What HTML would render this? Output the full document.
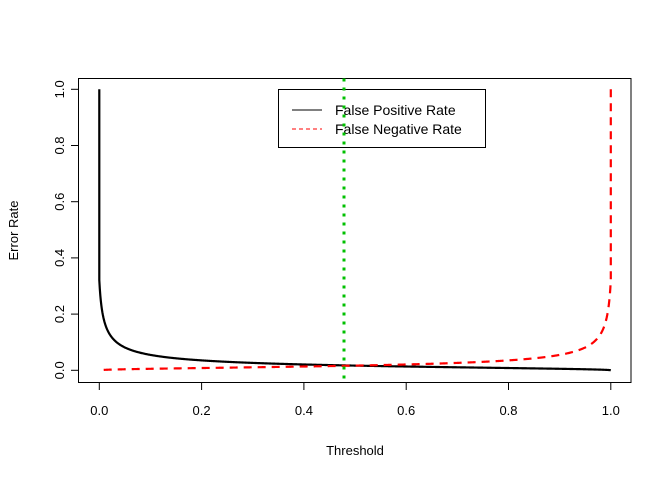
<!DOCTYPE html>
<html><head><style>
body{margin:0;background:#fff;}
svg{display:block;font-family:"Liberation Sans",Arial,sans-serif;}
</style></head><body>
<svg id="s" width="672" height="480" xmlns="http://www.w3.org/2000/svg">
<rect x="0" y="0" width="672" height="480" fill="#fff"/>
<rect x="78.5" y="78.5" width="552.5" height="304" fill="none" stroke="#000" stroke-width="1"/>
<g stroke="#000" stroke-width="1">
<line x1="99.3" y1="382.5" x2="99.3" y2="390"/>
<line x1="201.6" y1="382.5" x2="201.6" y2="390"/>
<line x1="303.9" y1="382.5" x2="303.9" y2="390"/>
<line x1="406.2" y1="382.5" x2="406.2" y2="390"/>
<line x1="508.5" y1="382.5" x2="508.5" y2="390"/>
<line x1="610.8" y1="382.5" x2="610.8" y2="390"/>
<line x1="71" y1="370.3" x2="78.5" y2="370.3"/>
<line x1="71" y1="314.1" x2="78.5" y2="314.1"/>
<line x1="71" y1="257.9" x2="78.5" y2="257.9"/>
<line x1="71" y1="201.7" x2="78.5" y2="201.7"/>
<line x1="71" y1="145.5" x2="78.5" y2="145.5"/>
<line x1="71" y1="89.3" x2="78.5" y2="89.3"/>
</g>
<g font-size="13" fill="#000" text-anchor="middle">
<text x="99.3" y="415">0.0</text>
<text x="201.6" y="415">0.2</text>
<text x="303.9" y="415">0.4</text>
<text x="406.2" y="415">0.6</text>
<text x="508.5" y="415">0.8</text>
<text x="610.8" y="415">1.0</text>
<text transform="translate(64,370.3) rotate(-90)">0.0</text>
<text transform="translate(64,314.1) rotate(-90)">0.2</text>
<text transform="translate(64,257.9) rotate(-90)">0.4</text>
<text transform="translate(64,201.7) rotate(-90)">0.6</text>
<text transform="translate(64,145.5) rotate(-90)">0.8</text>
<text transform="translate(64,89.3) rotate(-90)">1.0</text>
<text x="355" y="455">Threshold</text>
<text transform="translate(18,230.5) rotate(-90)">Error Rate</text>
</g>
<path id="fpr" fill="none" stroke="#000" stroke-width="2.2"/>
<path id="fnr" fill="none" stroke="#f00" stroke-width="2.2" stroke-dasharray="8,6"/>
<line x1="344" y1="78.5" x2="344" y2="382.5" stroke="#00c000" stroke-width="3" stroke-dasharray="3,6"/>
<rect x="278.5" y="89.5" width="207" height="58" fill="#fff" stroke="#000" stroke-width="1"/>
<line x1="292" y1="110" x2="322" y2="110" stroke="#000" stroke-width="1"/>
<line x1="292" y1="129" x2="322" y2="129" stroke="#f00" stroke-width="1" stroke-dasharray="4,3"/>
<g font-size="14" fill="#000">
<text x="335" y="115">False Positive Rate</text>
<text x="335" y="134">False Negative Rate</text>
</g>
<line x1="344" y1="78.5" x2="344" y2="150" stroke="#00c000" stroke-width="3" stroke-dasharray="3,6"/>
</svg>
<script>
function X(t){return 99.3+t*511.5;}
function Y(v){return 370.3-v*281;}
function g(t){ return 0.016*Math.sqrt(1-t)/Math.pow(t+0.0052,0.57);}
var a="M"+X(0)+" "+Y(1), b="M"+X(1)+" "+Y(1);
for(var i=0;i<=1000;i++){
 var t=i/1000;
 a+="L"+X(t).toFixed(2)+" "+Y(g(t)).toFixed(2);
 var u=1-t;
 b+="L"+X(u).toFixed(2)+" "+Y(g(t)).toFixed(2);
}
document.getElementById("fpr").setAttribute("d",a);
document.getElementById("fnr").setAttribute("d",b);
</script>
</body></html>
